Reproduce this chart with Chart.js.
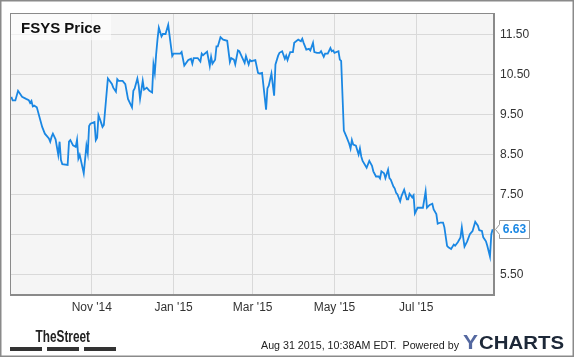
<!DOCTYPE html>
<html><head><meta charset="utf-8">
<script src="https://cdn.jsdelivr.net/npm/chart.js@4/dist/chart.umd.min.js"></script>
<style>html,body{margin:0;padding:0;background:#fff;overflow:hidden}canvas{display:block}</style>
</head><body><canvas id="c" width="575" height="358"></canvas>
<script>
// days since 2014-09-01
const dayOffsets = [1,2,4,6,9,12,14,15,16,17,18,20,24,26,29,30,31,32,34,36,37,38,39,43,44,45,47,49,50,51,52,55,57,58,59,60,63,64,65,66,67,69,70,73,76,77,79,80,81,84,86,88,91,92,93,95,96,97,99,100,102,104,106,107,108,109,110,111,113,114,116,118,121,122,127,128,130,133,135,136,137,140,142,143,144,147,149,150,151,153,154,155,157,159,162,164,165,167,168,170,171,175,176,178,179,180,183,185,186,188,191,192,193,195,197,198,200,201,203,205,206,207,209,211,212,215,217,218,219,221,223,224,226,227,229,231,232,234,235,237,239,240,241,242,245,246,247,249,251,253,254,255,256,258,260,261,262,263,266,268,270,271,273,275,276,277,279,280,282,283,284,286,287,288,289,291,292,294,296,297,298,300,301,302,304,308,310,311,313,315,316,318,319,321,323,324,326,327,329,331,332,334,336,337,338,339,341,343,344,345,347,348,349,350,352,353,355,356,358,359,360];
const prices = [9.94,9.85,9.85,10.09,9.94,9.89,9.86,9.79,9.84,9.70,9.72,9.68,9.19,9.02,8.90,8.82,8.94,9.02,8.88,8.49,8.82,8.36,8.26,8.24,8.82,8.86,8.73,8.69,8.87,8.40,8.49,8.03,8.72,8.53,9.21,9.27,9.31,8.86,8.92,9.48,9.39,9.19,9.24,10.40,10.26,10.17,10.07,10.38,10.34,10.34,10.26,9.89,9.68,10.09,10.15,10.40,10.22,9.89,10.34,10.12,10.17,10.09,10.05,10.75,10.54,11.00,11.37,11.67,11.45,11.51,11.51,11.74,10.96,11.02,11.02,11.06,10.72,10.86,10.89,10.77,10.91,10.91,10.82,11.02,10.98,11.07,10.71,10.94,10.77,10.87,11.20,11.20,11.43,11.37,11.34,10.81,10.91,10.87,10.75,11.10,11.08,10.79,10.96,10.75,10.86,10.83,10.86,10.54,10.52,10.54,9.62,10.15,10.22,10.52,9.97,10.75,10.97,11.04,11.08,10.89,10.97,10.86,11.06,11.06,11.29,11.37,11.33,11.39,11.29,11.12,11.14,11.10,11.29,11.06,11.04,11.04,11.08,10.94,11.02,11.02,11.16,11.08,11.10,11.04,11.08,10.87,10.84,9.10,8.94,8.77,8.65,8.86,8.75,8.72,8.50,8.65,8.45,8.34,8.17,8.34,8.22,8.08,7.95,7.95,7.90,8.08,8.03,7.91,8.12,7.91,7.87,7.70,7.65,7.54,7.50,7.33,7.46,7.62,7.38,7.38,7.52,7.43,7.48,7.03,7.17,7.17,7.58,7.17,7.24,7.27,7.13,7.01,6.77,6.80,6.80,6.68,6.22,6.18,6.14,6.25,6.22,6.31,6.43,6.68,6.43,6.20,6.33,6.51,6.55,6.59,6.82,6.77,6.72,6.61,6.59,6.43,6.33,6.22,5.95,6.51,6.63];
const xTickDays = [61,122,181,242,303];
const xTickLabels = ["Nov '14","Jan '15","Mar '15","May '15","Jul '15"];
const yTickValues = [5.5,6.5,7.5,8.5,9.5,10.5,11.5];
const titleText = 'FSYS Price';
const footerDate = 'Aug 31 2015, 10:38AM EDT.  Powered by';

const FONT = '"Liberation Sans", Arial, sans-serif';
const LINE = '#1a87e3';

function fitText(ctx, text, x, y, width) {
  const w = ctx.measureText(text).width;
  ctx.save();
  ctx.translate(x, y);
  ctx.scale(width / w, 1);
  ctx.fillText(text, 0, 0);
  ctx.restore();
}

const decor = {
  id: 'decor',
  beforeDraw(chart) {
    const {ctx, chartArea: a} = chart;
    ctx.save();
    ctx.fillStyle = '#fff';
    ctx.fillRect(0, 0, chart.width, chart.height);
    ctx.fillStyle = '#f5f5f5';
    ctx.fillRect(a.left, a.top, a.right - a.left, a.bottom - a.top);
    ctx.restore();
  },
  beforeDatasetsDraw(chart) {
    const {ctx, chartArea: a} = chart;
    ctx.save();
    ctx.fillStyle = 'rgba(255,255,255,0.6)';
    ctx.fillRect(a.left + 1, a.top + 1, 100, 26);
    ctx.fillStyle = '#111';
    ctx.font = 'bold 15px ' + FONT;
    ctx.textBaseline = 'alphabetic';
    ctx.fillText(titleText, a.left + 11, a.top + 19.5);
    ctx.restore();
  },
  afterDraw(chart) {
    const {ctx, chartArea: a} = chart;
    const ys = chart.scales.y;
    ctx.save();
    // plot frame
    ctx.strokeStyle = '#8a8a8a';
    ctx.lineWidth = 1;
    ctx.strokeRect(Math.round(a.left) + 0.5, Math.round(a.top) + 0.5, Math.round(a.right - a.left) - 1, Math.round(a.bottom - a.top) - 1);
    // outer frame
    ctx.strokeStyle = '#8a8a8a';
    ctx.lineWidth = 1.5;
    ctx.strokeRect(0.75, 0.75, chart.width - 2.5, chart.height - 2.5);
    // last value label
    const last = prices[prices.length - 1];
    const py = Math.round(ys.getPixelForValue(last)) + 0.5;
    const bx = a.right + 5.5, bw = 30, bh = 18;
    ctx.beginPath();
    ctx.moveTo(bx, py - bh / 2);
    ctx.lineTo(bx + bw, py - bh / 2);
    ctx.lineTo(bx + bw, py + bh / 2);
    ctx.lineTo(bx, py + bh / 2);
    ctx.lineTo(bx, py + 5);
    ctx.lineTo(bx - 4, py);
    ctx.lineTo(bx, py - 5);
    ctx.closePath();
    ctx.fillStyle = '#fff';
    ctx.fill();
    ctx.strokeStyle = '#999';
    ctx.lineWidth = 1;
    ctx.stroke();
    ctx.fillStyle = '#1a87e3';
    ctx.font = 'bold 12px ' + FONT;
    ctx.textAlign = 'center';
    ctx.textBaseline = 'middle';
    ctx.fillText(last.toFixed(2), bx + bw / 2, py + 0.5);
    // footer: TheStreet
    ctx.textAlign = 'left';
    ctx.textBaseline = 'alphabetic';
    ctx.fillStyle = '#222';
    ctx.font = 'bold 16px ' + FONT;
    fitText(ctx, 'TheStreet', 35.5, 341.5, 54.5);
    ctx.fillStyle = '#333';
    [10, 47, 84].forEach(x => ctx.fillRect(x, 347, 32, 4));
    // footer: date / powered by
    ctx.fillStyle = '#222';
    ctx.font = '11.5px ' + FONT;
    fitText(ctx, footerDate, 261, 349, 198);
    ctx.font = 'bold 20px ' + FONT;
    ctx.fillStyle = '#5468a0';
    fitText(ctx, 'Y', 463, 348.5, 15);
    ctx.font = 'bold 18.5px ' + FONT;
    ctx.fillStyle = '#1d2838';
    fitText(ctx, 'CHARTS', 479, 348.5, 85);
    ctx.restore();
  }
};

new Chart(document.getElementById('c'), {
  type: 'line',
  data: {
    datasets: [{
      data: dayOffsets.map((d, i) => ({x: d, y: prices[i]})),
      borderColor: LINE,
      borderWidth: 1.8,
      pointRadius: 0,
      tension: 0,
      fill: false
    }]
  },
  options: {
    responsive: false,
    animation: false,
    devicePixelRatio: 1,
    layout: {padding: {top: 10, left: 10, right: 0, bottom: 0}},
    plugins: {legend: {display: false}, tooltip: {enabled: false}, title: {display: false}},
    scales: {
      x: {
        type: 'linear', min: 0, max: 361,
        afterBuildTicks: s => { s.ticks = xTickDays.map(v => ({value: v})); },
        afterFit: s => { s.height = 63; },
        ticks: {
          autoSkip: false, maxRotation: 0, padding: 5,
          color: '#333', font: {family: FONT, size: 12},
          callback: v => xTickLabels[xTickDays.indexOf(v)]
        },
        grid: {color: '#d9d9d9', drawTicks: false, lineWidth: 1},
        border: {display: true, color: '#8a8a8a'}
      },
      y: {
        position: 'right', min: 4.99, max: 12.03,
        afterBuildTicks: s => { s.ticks = yTickValues.map(v => ({value: v})); },
        afterFit: s => { s.width = 81; },
        ticks: {
          padding: 6, color: '#333', font: {family: FONT, size: 12},
          callback: v => (v === 6.5 ? '' : v.toFixed(2))
        },
        grid: {color: '#d9d9d9', drawTicks: false, lineWidth: 1},
        border: {display: true, color: '#8a8a8a'}
      }
    }
  },
  plugins: [decor]
});
</script>
</body></html>
